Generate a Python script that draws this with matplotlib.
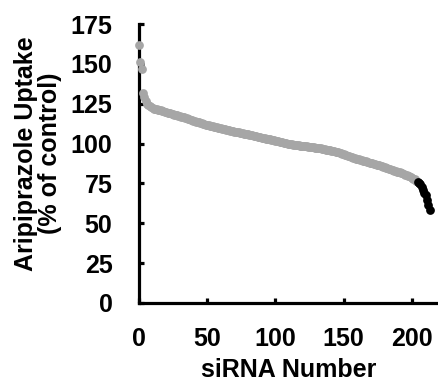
import numpy as np
import matplotlib
matplotlib.use('Agg')
import matplotlib.pyplot as plt

plt.rcParams['font.family'] = ['Liberation Sans', 'DejaVu Sans']
plt.rcParams['font.weight'] = 'bold'

# sorted siRNA screen results, % of control
uptake_gray = [
    162, 151, 147, 132, 129, 126.5, 125, 124, 123.5, 123,
    122.5, 122, 121.8, 121.5, 121.2, 121, 120.8, 120.5, 120.2, 120,
    119.7, 119.4, 119.2, 119, 118.7, 118.5, 118.2, 118, 117.8, 117.5,
    117.2, 117, 116.8, 116.5, 116.2, 115.9, 115.6, 115.3, 115, 114.7,
    114.4, 114.1, 113.8, 113.6, 113.3, 113, 112.8, 112.5, 112.3, 112,
    111.8, 111.5, 111.3, 111, 110.8, 110.6, 110.4, 110.2, 110, 109.8,
    109.6, 109.4, 109.2, 109, 108.8, 108.6, 108.4, 108.2, 108, 107.8,
    107.6, 107.4, 107.2, 107, 106.8, 106.6, 106.5, 106.3, 106.1, 106,
    105.8, 105.6, 105.4, 105.2, 105, 104.8, 104.6, 104.4, 104.2, 104,
    103.8, 103.6, 103.4, 103.2, 103, 102.8, 102.6, 102.4, 102.2, 102,
    101.8, 101.6, 101.4, 101.2, 101, 100.8, 100.6, 100.4, 100.2, 100,
    99.8, 99.7, 99.5, 99.4, 99.2, 99.1, 99, 98.9, 98.8, 98.7,
    98.6, 98.5, 98.4, 98.2, 98.1, 98, 97.9, 97.8, 97.6, 97.5,
    97.4, 97.2, 97.1, 97, 96.8, 96.7, 96.5, 96.3, 96.1, 96,
    95.8, 95.6, 95.4, 95.2, 95, 94.8, 94.5, 94.2, 93.9, 93.6,
    93.3, 93, 92.7, 92.4, 92.1, 91.8, 91.5, 91.2, 90.9, 90.6,
    90.3, 90.1, 89.8, 89.6, 89.3, 89.1, 88.8, 88.6, 88.3, 88.1,
    87.8, 87.6, 87.3, 87.1, 86.8, 86.6, 86.3, 86.1, 85.8, 85.5,
    85.2, 84.9, 84.6, 84.3, 84, 83.7, 83.4, 83.1, 82.8, 82.5,
    82.2, 81.9, 81.6, 81.3, 81, 80.6, 80.2, 79.8, 79.4, 79,
    78.6, 78.1, 77.5, 76.8,
]
uptake_hits = [75.8, 75.2, 74.5, 72.5, 71, 69, 67.5, 64.5, 61.5, 58.5]

x_ticks = [0, 50, 100, 150, 200]
y_ticks = [0, 25, 50, 75, 100, 125, 150, 175]

fig = plt.figure(figsize=(4.38, 3.83), dpi=100)
ax = fig.add_axes([0.317, 0.209, 0.683, 0.728])

x_gray = np.arange(len(uptake_gray))
x_hits = np.arange(len(uptake_gray), len(uptake_gray) + len(uptake_hits))

ax.plot(x_gray, uptake_gray, 'o', color='#a6a6a6', ms=6.3, mew=0,
        clip_on=False, zorder=3)
ax.plot(x_hits, uptake_hits, 'o', color='black', ms=6.3, mew=0,
        clip_on=False, zorder=4)

ax.set_xlim(0, 219)
ax.set_ylim(0, 175)
ax.set_xticks(x_ticks)
ax.set_yticks(y_ticks)

for s in ['top', 'right']:
    ax.spines[s].set_visible(False)
for s in ['left', 'bottom']:
    ax.spines[s].set_linewidth(2.3)

ax.tick_params(direction='in', length=3.5, width=2.3, labelsize=18)
ax.tick_params(axis='x', pad=17)
ax.tick_params(axis='y', pad=19)
for lbl in ax.get_xticklabels() + ax.get_yticklabels():
    lbl.set_fontweight('bold')

ax.set_xlabel('siRNA Number', fontsize=18, fontweight='bold', labelpad=5.5)
fig.text(0.086, 0.599, 'Aripiprazole Uptake\n(% of control)', rotation=90,
         ha='center', va='center', multialignment='center', linespacing=1.0,
         fontsize=18, fontweight='bold')

fig.savefig('out.png', dpi=100)
